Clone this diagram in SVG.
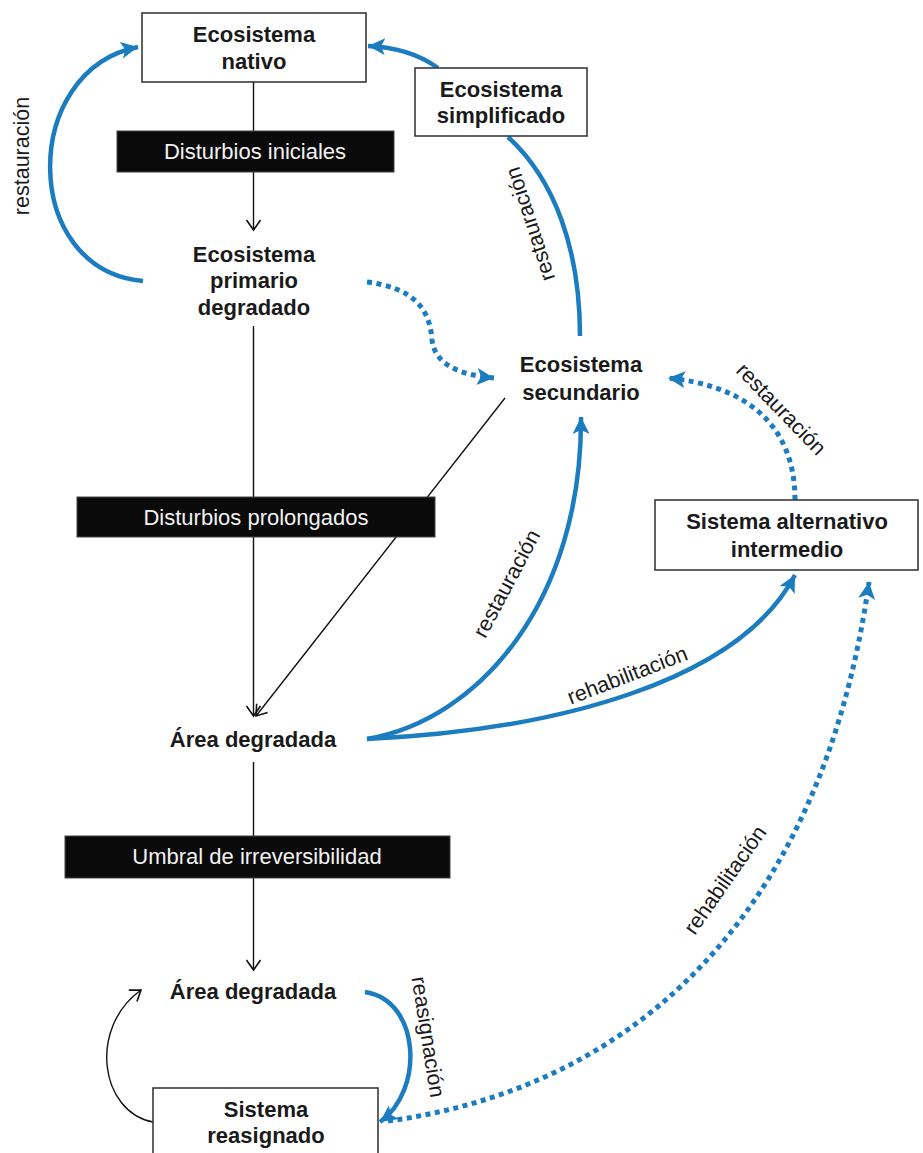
<svg xmlns="http://www.w3.org/2000/svg" width="923" height="1153" viewBox="0 0 923 1153">
<defs>
<style>
.t{font-family:"Liberation Sans",Arial,sans-serif;font-size:22px;font-weight:bold;fill:#1a1a1a;text-anchor:middle}
.bt{font-family:"Liberation Sans",Arial,sans-serif;font-size:22px;fill:#f2f2f2;text-anchor:middle}
.lb{font-family:"Liberation Sans",Arial,sans-serif;font-size:21.5px;fill:#1a1a1a;text-anchor:middle}
.box{fill:#fff;stroke:#3a3a3a;stroke-width:1.6}
.bar{fill:#0a0a0a;stroke:#444;stroke-width:1}
.k{fill:none;stroke:#111;stroke-width:1.4}
.b{fill:none;stroke:#1c7cc0;stroke-width:4.5}
.d{fill:none;stroke:#1c7cc0;stroke-width:5;stroke-dasharray:5 4.5}
</style>
<marker id="ka" markerUnits="userSpaceOnUse" markerWidth="24" markerHeight="24" viewBox="-12 -12 24 24" refX="0" refY="0" orient="auto">
<path d="M-10,-7 L0,0 L-10,7" fill="none" stroke="#111" stroke-width="1.6"/>
</marker>
<marker id="ba" markerUnits="userSpaceOnUse" markerWidth="36" markerHeight="36" viewBox="-18 -18 36 36" refX="0" refY="0" orient="auto">
<path d="M-17,-8.5 L0,0 L-17,8.5 L-13,0 Z" fill="#1c7cc0"/>
</marker>
</defs>
<rect width="923" height="1153" fill="#fff"/>

<g id="connectors">
<line class="k" x1="253.5" y1="82" x2="253.5" y2="230" marker-end="url(#ka)"/>
<line class="k" x1="253.5" y1="326" x2="253.5" y2="716" marker-end="url(#ka)"/>
<line class="k" x1="505" y1="398" x2="256" y2="716" marker-end="url(#ka)"/>
<line class="k" x1="253.5" y1="762" x2="253.5" y2="970" marker-end="url(#ka)"/>
<path class="k" d="M153,1122 C100,1112 88,1028 141,990" marker-end="url(#ka)"/>
<path class="b" d="M143,281 C20,270 20,70 138,47" marker-end="url(#ba)"/>
<path class="b" d="M438,68 C420,55 395,47 368,46" marker-end="url(#ba)"/>
<path class="b" d="M580,336 C580,250 555,180 508,137"/>
<path class="d" d="M367,282 C415,288 430,310 432,340 C435,365 460,375 494,378" marker-end="url(#ba)"/>
<path class="d" d="M795,500 C795,420 740,385 668,378" marker-end="url(#ba)"/>
<path class="b" d="M367,739 C480,720 582,600 581,417" marker-end="url(#ba)"/>
<path class="b" d="M367,739 C560,730 740,680 795,575" marker-end="url(#ba)"/>
<path class="b" d="M365,992 C420,1000 425,1090 380,1122" marker-end="url(#ba)"/>
<path class="d" d="M388,1121 C620,1090 820,930 869,582" marker-end="url(#ba)"/>
</g>

<g id="labels">
<text class="lb" transform="translate(29,156) rotate(-90)">restauración</text>
<text class="lb" transform="translate(537,222) rotate(-108)">restauración</text>
<text class="lb" transform="translate(776,414) rotate(46)">restauración</text>
<text class="lb" transform="translate(513,587) rotate(-62)">restauración</text>
<text class="lb" transform="translate(630,682) rotate(-21)">rehabilitación</text>
<text class="lb" transform="translate(731,884) rotate(-55)">rehabilitación</text>
<text class="lb" transform="translate(421,1038) rotate(81)">reasignación</text>
</g>

<g id="bar-iniciales">
<rect class="bar" x="117" y="131" width="277" height="41"/>
<text class="bt" x="255" y="159">Disturbios iniciales</text>
</g>
<g id="bar-prolongados">
<rect class="bar" x="77" y="497" width="358" height="40"/>
<text class="bt" x="256" y="525">Disturbios prolongados</text>
</g>
<g id="bar-umbral">
<rect class="bar" x="65" y="836" width="385" height="42"/>
<text class="bt" x="257" y="864">Umbral de irreversibilidad</text>
</g>

<g id="node-nativo">
<rect class="box" x="142" y="13" width="224" height="69"/>
<text class="t" x="254" y="42">Ecosistema</text>
<text class="t" x="254" y="69">nativo</text>
</g>
<g id="node-simplificado">
<rect class="box" x="415" y="68" width="172" height="68"/>
<text class="t" x="501" y="97">Ecosistema</text>
<text class="t" x="501" y="123">simplificado</text>
</g>
<g id="node-primario">
<text class="t" x="254" y="262">Ecosistema</text>
<text class="t" x="254" y="288">primario</text>
<text class="t" x="254" y="315">degradado</text>
</g>
<g id="node-secundario">
<text class="t" x="581" y="372">Ecosistema</text>
<text class="t" x="581" y="400">secundario</text>
</g>
<g id="node-alternativo">
<rect class="box" x="655" y="500" width="263" height="70"/>
<text class="t" x="787" y="529">Sistema alternativo</text>
<text class="t" x="787" y="557">intermedio</text>
</g>
<g id="node-area1">
<text class="t" x="253" y="747">Área degradada</text>
</g>
<g id="node-area2">
<text class="t" x="253" y="999">Área degradada</text>
</g>
<g id="node-reasignado">
<rect class="box" x="153" y="1088" width="225" height="80"/>
<text class="t" x="266" y="1117">Sistema</text>
<text class="t" x="266" y="1143">reasignado</text>
</g>
</svg>
